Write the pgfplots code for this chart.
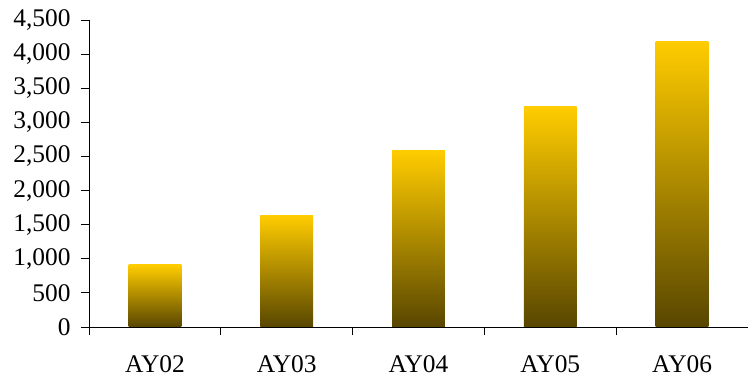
\documentclass[border=0pt]{standalone}
\usepackage{pgfplots}
\pgfplotsset{compat=1.18}
\usepackage{fontspec}
\setmainfont{Liberation Serif}
\definecolor{bartop}{RGB}{255,204,0}
\definecolor{barbot}{RGB}{88,70,0}
\begin{document}
\begin{tikzpicture}
\begin{axis}[
  width=659bp, height=307bp, scale only axis,
  xmin=-0.5, xmax=4.5, ymin=0, ymax=4500,
  axis x line*=bottom, axis y line*=left,
  axis line style={black, line width=0.8bp},
  xtick={0,1,2,3,4},
  xticklabels={AY02,AY03,AY04,AY05,AY06},
  major x tick style={draw=none},
  minor xtick={-0.5,0.5,1.5,2.5,3.5,4.5},
  ytick={0,500,...,4500},
  tick align=outside,
  major tick length=8bp, minor tick length=8bp,
  tick style={black, line width=0.8bp},
  scaled y ticks=false,
  yticklabel style={/pgf/number format/1000 sep={,}, /pgf/number format/assume math mode=true, xshift=-7bp},
  ticklabel style={font=\fontsize{25.5}{30}\selectfont},
  xticklabel style={yshift=-17bp},
  ybar, bar width=0.4, bar shift=0pt,
  every axis plot/.append style={draw=none, top color=bartop, bottom color=barbot},
]
% one plot per bar so each bar carries its own gradient
\addplot coordinates {(0,910)};
\addplot coordinates {(1,1640)};
\addplot coordinates {(2,2580)};
\addplot coordinates {(3,3225)};
\addplot coordinates {(4,4190)};
\end{axis}
\pgfresetboundingbox
\path[use as bounding box] (current axis.south west) ++(-89bp,-50bp) rectangle ++(748bp,377bp);
\end{tikzpicture}
\end{document}
